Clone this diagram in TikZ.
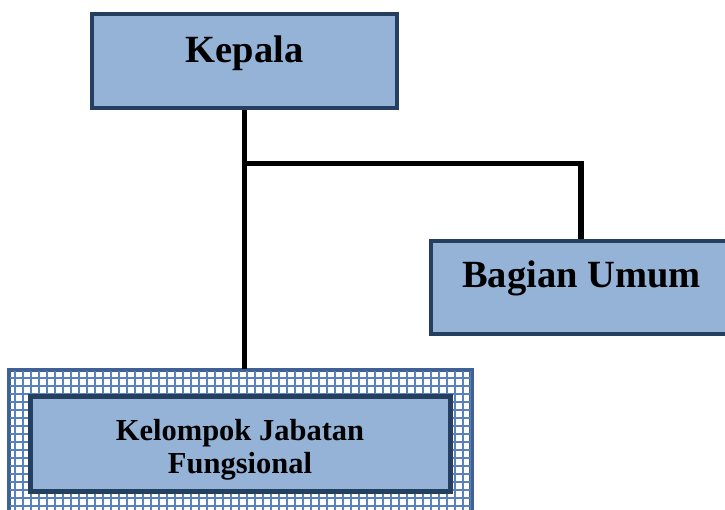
\documentclass[tikz,border=0pt]{standalone}
\usepackage{fontspec}
\setmainfont{Liberation Serif}
\definecolor{boxfill}{HTML}{95B3D7}
\definecolor{boxline}{HTML}{243F60}
\definecolor{gridline}{HTML}{5A82BE}
\definecolor{frameline}{HTML}{3F6296}
\begin{document}
\begin{tikzpicture}[x=1pt,y=-1pt,
  orgbox/.style={draw=boxline, fill=boxfill, line width=4pt, rectangle, inner sep=0pt},
  bigtext/.style={font=\bfseries\fontsize{38.5}{40}\selectfont, inner sep=0pt, anchor=base},
  smalltext/.style={font=\bfseries\fontsize{30.5}{33}\selectfont, inner sep=0pt, align=center},
  conn/.style={line width=5.5pt, black}]
\useasboundingbox (0,0) rectangle (725,510);
% patterned frame
\node[rectangle, draw=frameline, fill=white, line width=3pt, minimum width=461pt, minimum height=147pt, inner sep=0pt] (frame) at (240,444) {};
\begin{scope}
  \clip (frame.north west) rectangle (frame.south east);
  \foreach \xx in {15,23,...,471} {\draw[gridline, line width=1.8pt] (\xx,369) -- (\xx,520);}
  \foreach \yy in {378,386,...,520} {\draw[gridline, line width=1.8pt] (8,\yy) -- (472,\yy);}
\end{scope}
\draw[frameline, line width=3pt] (frame.north west) rectangle (frame.south east);
% boxes
\node[orgbox, minimum width=305pt, minimum height=94pt] (kepala) at (244.5,61) {};
\node[orgbox, minimum width=300pt, minimum height=93pt] (bagian) at (581,287.5) {};
\node[orgbox, line width=5pt, minimum width=420pt, minimum height=95pt] (kelompok) at (240.5,444) {};
% texts
\node[bigtext] (kepalatext) at (244.5,63) {Kepala};
\node[bigtext] (bagiantext) at (581.5,288) {Bagian Umum};
\node[smalltext] (kelompoktext) at (240,450) {Kelompok Jabatan\\Fungsional};
% connectors
\coordinate (j) at (244.5,163.5);
\draw[conn] (kepala.south) -- (kepala.south |- frame.north);
\draw[conn] ([xshift=-2.75pt]j) -| (bagian.north);
\end{tikzpicture}
\end{document}
